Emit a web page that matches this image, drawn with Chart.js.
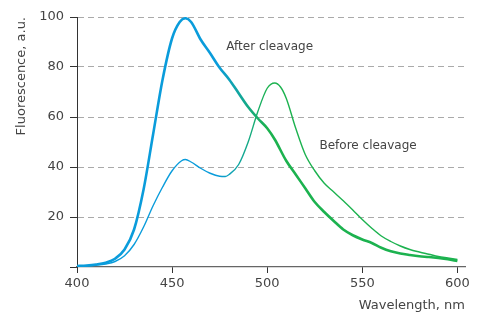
<!DOCTYPE html>
<html>
<head>
<meta charset="utf-8">
<script src="https://cdn.jsdelivr.net/npm/chart.js@4"></script>
<style>
  html, body { margin: 0; padding: 0; background: #fff; }
  #wrap { width: 478px; height: 313px; }
</style>
</head>
<body>
<div id="wrap"><canvas id="spectrumChart"></canvas></div>
<script>
// --- data ---
const afterWavelength = [400, 405, 410, 415, 420, 425, 430, 435, 440, 445, 450, 454, 457, 460, 465, 470, 475, 480, 485, 490, 495, 500, 504, 510, 515, 520, 525, 530, 535, 540, 545, 550, 555, 560, 565, 570, 575, 580, 585, 590, 595, 600];
const afterValues = [0.4, 0.6, 1.0, 1.7, 3.3, 7, 15, 31, 53, 75, 91.5, 98, 99.5, 98, 91, 85.5, 79.7, 75, 69.5, 64, 59.5, 55.5, 51, 42.5, 37, 31.5, 26, 22, 18.4, 15, 12.7, 11, 9.6, 7.7, 6.3, 5.4, 4.8, 4.3, 4.0, 3.6, 3.1, 2.4];

const beforeWavelength = [400, 405, 410, 415, 420, 425, 430, 435, 440, 445, 450, 455, 457, 460, 465, 470, 475, 478, 480, 485, 490, 495, 500, 504, 507, 510, 515, 520, 525, 530, 535, 540, 545, 550, 555, 560, 565, 570, 575, 580, 585, 590, 595, 600];
const beforeValues = [0.3, 0.4, 0.7, 1.2, 2.2, 4.5, 9, 16, 24.5, 32, 38.5, 42.5, 43, 42, 39.5, 37.5, 36.3, 36.2, 37, 41, 50, 62, 71.5, 73.6, 72, 67.5, 55.5, 45, 38.5, 33.5, 30, 26.5, 22.8, 19, 15.5, 12.4, 10.2, 8.4, 7, 6, 5.1, 4.2, 3.6, 3];

const xTicks = [400, 450, 500, 550, 600];
const yTicks = [0, 20, 40, 60, 80, 100];

// curve labels: text, wavelength, value (left / middle anchor)
const labelTexts = ['After cleavage', 'Before cleavage'];
const labelWavelength = [478.5, 527.5];
const labelValues = [88, 48.5];

const BLUE = '#0a9cdb';
const GREEN = '#1cb24f';

// blue on the left, green on the right, blended between ~475 and ~500 nm
function curveGradient(context) {
    const chart = context.chart;
    const { ctx, chartArea, scales } = chart;
    if (!chartArea) return BLUE;
    const x0 = scales.x.getPixelForValue(474);
    const x1 = scales.x.getPixelForValue(500);
    const g = ctx.createLinearGradient(x0, 0, x1, 0);
    g.addColorStop(0, BLUE);
    g.addColorStop(1, GREEN);
    return g;
}

const toPoints = (xs, ys) => xs.map((x, i) => ({ x: x, y: ys[i] }));

const curveLabelsPlugin = {
    id: 'curveLabels',
    afterDatasetsDraw(chart) {
        const { ctx, scales } = chart;
        ctx.save();
        ctx.font = '12px "DejaVu Sans"';
        ctx.fillStyle = '#444';
        ctx.textAlign = 'left';
        ctx.textBaseline = 'middle';
        labelTexts.forEach((t, i) => {
            ctx.fillText(t, scales.x.getPixelForValue(labelWavelength[i]), scales.y.getPixelForValue(labelValues[i]));
        });
        ctx.restore();
    }
};

Chart.defaults.font.family = '"DejaVu Sans", sans-serif';
Chart.defaults.color = '#444';

new Chart(document.getElementById('spectrumChart'), {
    type: 'line',
    data: {
        datasets: [
            {
                label: 'After cleavage',
                data: toPoints(afterWavelength, afterValues),
                borderColor: curveGradient,
                borderWidth: 2.6,
                pointRadius: 0,
                cubicInterpolationMode: 'monotone',
                fill: false
            },
            {
                label: 'Before cleavage',
                data: toPoints(beforeWavelength, beforeValues),
                borderColor: curveGradient,
                borderWidth: 1.4,
                pointRadius: 0,
                cubicInterpolationMode: 'monotone',
                fill: false
            }
        ]
    },
    options: {
        responsive: true,
        maintainAspectRatio: false,
        animation: false,
        layout: { padding: { left: 0, right: 13, top: 17, bottom: 0 } },
        plugins: {
            legend: { display: false },
            tooltip: { enabled: false }
        },
        scales: {
            x: {
                type: 'linear',
                min: 400,
                max: 604,
                afterFit(scale) { scale.height = 46; },
                afterBuildTicks(scale) { scale.ticks = xTicks.map(v => ({ value: v })); },
                border: { color: '#666', width: 1.2 },
                grid: {
                    drawOnChartArea: false,
                    drawTicks: true,
                    tickLength: 6,
                    tickColor: '#333',
                    tickBorderDash: []
                },
                ticks: { padding: 3, font: { size: 13 }, color: '#444' },
                title: {
                    display: true,
                    text: 'Wavelength, nm',
                    align: 'end',
                    font: { size: 13 },
                    color: '#444',
                    padding: { top: 0, bottom: 0 }
                }
            },
            y: {
                min: 0,
                max: 100,
                afterFit(scale) { scale.width = 77; },
                afterBuildTicks(scale) { scale.ticks = yTicks.map(v => ({ value: v })); },
                // in v4 border.dash is the dash of the grid lines
                border: { color: '#333', width: 1, dash: [6, 4] },
                grid: {
                    color: ctx => (ctx.tick && ctx.tick.value === 0 ? 'rgba(0,0,0,0)' : '#aaa'),
                    lineWidth: 1,
                    tickLength: 7,
                    tickColor: '#333',
                    tickBorderDash: []
                },
                ticks: {
                    padding: 6,
                    font: { size: 13 },
                    color: '#444',
                    callback: v => (v === 0 ? '' : v)
                },
                title: {
                    display: true,
                    text: 'Fluorescence, a.u.',
                    align: 'end',
                    font: { size: 13 },
                    color: '#444',
                    padding: { top: 14, bottom: 0 }
                }
            }
        }
    },
    plugins: [curveLabelsPlugin]
});
</script>
</body>
</html>
